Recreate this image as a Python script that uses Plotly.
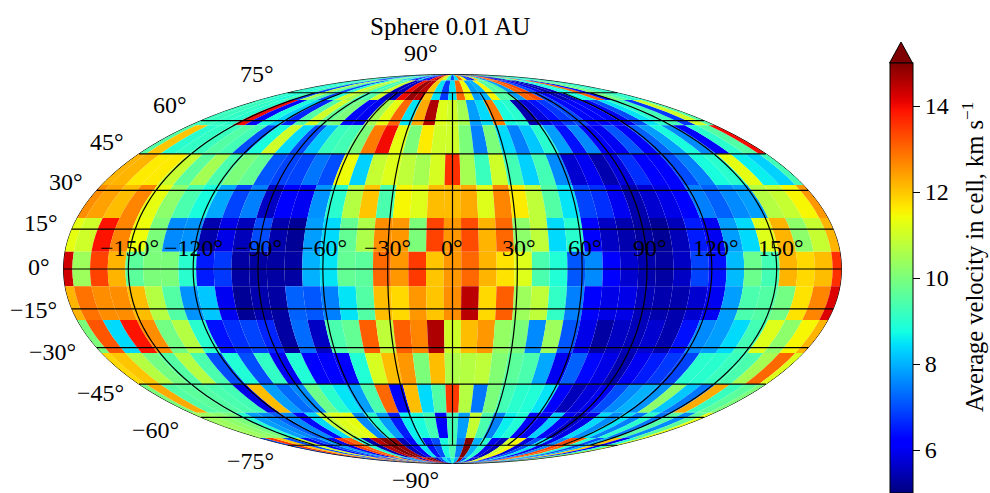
import numpy as np
import plotly.graph_objects as go
from plotly.colors import sample_colorscale

W, H = 990, 493

# Velocity per cell, km/s. Rows run north to south, columns west to east (45 columns, half cells at +/-180).
row_00 = [9.0,9.2,9.5,8.5,7.0,6.2,8.8,9.4,10,9.5,8.0,9,7,6,8.5,6,6,14,14.5,12,11,9,7,
          8.5,13,11.5,7,6.5,12,9.4,7.5,13,13,6,5.5,5.4,9,9,12,7,9.5,8.8,9,9,9]
row_01 = [9,9,8.8,9.3,7,10.5,9.5,7,9,11,10.5,9.2,9.5,11,5.5,5.6,14,14.8,14.5,12,8.5,6.8,8.5,
          13,11.4,7.8,8,11.5,9.5,9.5,7.8,13,13.3,7,6.2,5.4,5.6,8.8,8.8,13,6.4,10,9.5,9,9]
row_02 = [9.2,9.2,9.1,9,14,6.3,8.8,8.3,6.6,9.5,11,9.7,10,6.3,6,10.5,11.3,13,8.5,12.3,14.6,11.2,11,
          10.5,7.8,8.4,12.8,8.8,9,5.4,5.8,6.4,6.8,7,6.3,6.1,6.3,6,7,8.5,9,9.3,6.8,11,9.5]
row_03 = [9.5,12,9,9.1,9.2,9.5,9.3,7,8.8,11,8.4,7,8.2,9.2,9.3,10,12.8,14,11.3,10,11.6,11,11,
          10,7.5,10,8.4,7.5,8.2,9,7.8,6.4,7.6,6.2,6,7.1,6.1,7.2,7.8,8.8,7.6,6.2,9,9.5,14]
row_04 = [12.2,12.2,11.6,11.6,10.9,9.6,10.5,9.4,10,9.7,7.1,6.9,6.9,7.4,7,11.4,8.3,10.9,11.2,10.8,10.5,11.1,13.6,
          10.5,9.2,11,9.3,8.3,9.3,7.6,5.7,6,5.4,5.8,6.7,6.1,6.1,7,7.5,8.8,9,11.3,8.6,8.3,9.3]
row_05 = [12.6,12.4,12.1,12.7,11.3,10.2,9.4,8.8,7.9,6.9,7.5,5.6,6.2,6,7.7,9,10.7,12,9.4,11.5,11.2,12.1,12.1,
          12.3,11.2,12.7,11.6,10.8,9.5,8.5,6.9,6.7,6,5.4,5.7,5.9,6.2,7.5,7.2,7.6,7.8,10.7,10.9,11.5,12.5]
row_06 = [11.3,11,13.9,12.7,11.4,10,7.6,7.7,5.4,5.9,5.5,7,5.4,5.2,7.8,8.4,9.7,10.6,12.6,12.5,10,13.4,12.5,
          13.3,12.2,13,10.2,10.8,8.4,9,6.2,5.6,5.4,5.3,5.2,5.5,6.5,6,7.8,8.4,11.2,12.2,10.2,10.9,12.2]
row_07 = [14.3,10.4,13.4,12.2,9.6,10,10,9.0,6.5,6.8,5.3,5.3,5.3,5.3,8.0,8.5,9.7,9.6,13.0,12.5,13.5,12.0,12.5,
          13.0,12.2,11.7,11.2,9.4,8.9,7.1,7.6,6.2,5.7,5.4,5.3,5.6,6.9,6.4,8.1,9.8,9.3,12.2,11.8,12.1,13.6]
row_08 = [12.2,12.9,12.6,12.6,12.1,10.7,9.5,7.7,8.2,6,5.2,5.4,5.3,7.2,7.1,7.5,8.5,9.5,12.1,11.8,12.5,12,12.6,
          14.5,11.8,13.1,10.4,10.8,9.1,7.5,6.2,5.9,5.9,5.5,5.4,5.4,5.7,6,7.8,9.4,9.5,9.9,11.7,12.7,14.2]
row_09 = [10,13.2,8.4,13.9,12.6,9.9,10.7,9,6.4,6.7,6.9,6.6,5.3,7.3,5.6,9.4,9.7,13.1,10.8,13.1,12.7,14.6,11,
          12.1,12.5,10.3,10,7.6,10.4,7.1,5.9,5.3,5.6,5.5,5.7,5.4,6.4,7.6,7.8,8.4,9.3,11.2,10.2,11.5,12.2]
row_10 = [11.8,12,10.7,9.9,9.5,10.7,9.4,7,8.9,7,9.1,6,8.9,6.2,6.1,6.1,8.9,11.1,12.1,12.5,10,12.1,10.6,
          10.7,10.8,10.1,9.6,9.4,7.9,6,7.2,6.3,5.9,5.4,6,6.5,6.8,6.9,9,9,9.2,9.4,10.5,13,11.2]
row_11 = [10,12.3,9.5,9.6,9.5,9.4,9.3,5.9,12.1,7.8,7.3,7.6,9.8,9,8.5,7.8,9.4,13,6.1,12.1,8.4,9.5,13.5,
          10.7,7.4,10,9.3,9,8.9,8.5,6.2,5.5,5.8,6,7,7.6,8,7.7,10.2,8.2,7.4,12.3,9.2,9.6,10]
row_12 = [10.4,10.4,10.2,10,9,7.8,7.6,7.2,7.6,6.3,8.4,10.8,11.2,11.3,7.6,9,7.8,6.5,8.6,8.8,9.3,6.1,9.3,
          7.8,10.9,9.4,7.5,8.6,8.9,6.2,6,8.3,6.2,5.6,5.9,8.4,7.6,8.5,7.5,9,7.4,9.5,7.6,9.6,11.3]
row_13 = [7,13.5,12,7,11,6,7,7.8,6,13.5,13,9,5.4,14.5,15,14.8,5.5,6.2,8.5,6.4,7,8.8,9.4,
          7.5,15,8,9,6,5.5,11,11.5,5.8,7,8.5,6,7.6,13.4,13,9,7,8,12,6,9,11]
row_14 = [7,7.5,13.5,12,7,13,6,11,7,12,6,8,7.5,13.5,5.5,14,15,15,5.5,7,8.5,8,9,
          8,14.8,7,9,6,5.5,11,11.5,6,7,8.5,6,7.6,13.6,13,9,7,8,12,6,9,11]
rows = [row_00,row_01,row_02,row_03,row_04,row_05,row_06,row_07,
        row_08,row_09,row_10,row_11,row_12,row_13,row_14]
assert all(len(r) == 45 for r in rows), [len(r) for r in rows]

lat_tick_labels = ["90°","75°","60°","45°","30°","15°","0°","−15°","−30°","−45°","−60°","−75°","−90°"]
lon_tick_labels = ["−150°","−120°","−90°","−60°","−30°","0°","30°","60°","90°","120°","150°"]
cbar_ticks = [6, 8, 10, 12, 14]

dlat = 180 / 14
dlon = 360 / 44
lat_edges = [90.0] + [90 - 6.4286 - dlat * i for i in range(14)] + [-90.0]
lon_edges = [-180.0] + [-180 + dlon / 2 + dlon * i for i in range(44)] + [180.0]
EPS = 0.02
VMIN, VMAX = 5, 15

def ring(w, e, n, s):
    w = max(w, -180 + EPS); e = min(e, 180 - EPS)
    n = min(n, 90 - EPS); s = max(s, -90 + EPS)
    xs = np.linspace(w, e, 6).tolist()
    return [x for x in xs] + [x for x in xs[::-1]] + [xs[0]], [n]*6 + [s]*6 + [n]

# matplotlib jet segments
def seg(pts, t):
    return float(np.interp(t, [p[0] for p in pts], [p[1] for p in pts]))
R = [(0,0),(.35,0),(.66,1),(.89,1),(1,.5)]
G = [(0,0),(.125,0),(.375,1),(.64,1),(.91,0),(1,0)]
B = [(0,.5),(.11,1),(.34,1),(.65,0),(1,0)]
jet = [[t, "rgb(%d,%d,%d)" % (round(255*seg(R,t)), round(255*seg(G,t)), round(255*seg(B,t)))]
       for t in np.linspace(0, 1, 65).tolist()]

FONT = "Liberation Serif"
fig = go.Figure()
clon, clat, cval = [], [], []
for r, vals in enumerate(rows):
    for c, v in enumerate(vals):
        lons, lats = ring(lon_edges[c], lon_edges[c+1], lat_edges[r], lat_edges[r+1])
        col = sample_colorscale(jet, [(v - VMIN) / (VMAX - VMIN)], colortype="rgb")[0]
        fig.add_trace(go.Scattergeo(lon=lons, lat=lats, mode="lines", fill="toself", fillcolor=col,
                                    line=dict(width=0, color=col), hoverinfo="skip", showlegend=False))
        clon.append((max(lon_edges[c], -179) + min(lon_edges[c+1], 179)) / 2)
        clat.append((lat_edges[r] + lat_edges[r+1]) / 2)
        cval.append(v)

# Transparent points at the cell centres carry the colour bar
fig.add_trace(go.Scattergeo(lon=clon, lat=clat, mode="markers", hoverinfo="skip", showlegend=False,
    marker=dict(color=cval, cmin=VMIN, cmax=VMAX, colorscale=jet, size=1, opacity=0, showscale=True,
        colorbar=dict(x=889.5/W, xanchor="left", y=1-63/H, yanchor="top", len=430, lenmode="pixels",
                      thickness=23, thicknessmode="pixels", xpad=0, ypad=0, outlinecolor="black", outlinewidth=1,
                      tickvals=cbar_ticks, ticks="outside", ticklen=7, tickcolor="black",
                      tickfont=dict(family=FONT, size=24, color="black")))))

# graticule: parallels run to the rim, meridians stop at +/-75
glon, glat = [], []
for la in range(-75, 76, 15):
    xs = np.linspace(-179.98, 179.98, 73).tolist()
    glon += xs + [None]; glat += [la] * len(xs) + [None]
for lo in range(-150, 151, 30):
    ys = np.linspace(-75, 75, 31).tolist()
    glon += [lo] * len(ys) + [None]; glat += ys + [None]
fig.add_trace(go.Scattergeo(lon=glon, lat=glat, mode="lines", line=dict(color="black", width=1.2),
                            hoverinfo="skip", showlegend=False))

def label(txt, px, py, size=24, **kw):
    fig.add_annotation(text=txt, x=px/W, y=1-py/H, xref="paper", yref="paper", showarrow=False,
                       xanchor="center", yanchor="middle", font=dict(family=FONT, size=size, color="black"), **kw)

lat_pos = [(421,53),(257,74),(170,105),(107,142),(66,182),(41,223),(39,267),(33,310),(52,352),(100,393),(155,430),(250,461),(415,480)]
for t, (px, py) in zip(lat_tick_labels, lat_pos):
    label(t, px, py)
lon_pos = [129,193,258,323,387,452,519,585,650,716,781]
for t, px in zip(lon_tick_labels, lon_pos):
    label(t, px, 248)
label("Sphere 0.01 AU", 450, 26, size=25)
label("Average velocity in cell, km s<sup>−1</sup>", 973, 257, size=24.5, textangle=-90)

ax0, ax1, ay0, ax_mid, ay_tip = 889.5/W, 912.5/W, 1-63/H, 901/W, 1-42/H
fig.add_shape(type="path", xref="paper", yref="paper", fillcolor="#7f0000",
              line=dict(color="black", width=1),
              path=f"M {ax0} {ay0} L {ax_mid} {ay_tip} L {ax1} {ay0} Z")

fig.update_layout(
    width=W, height=H, margin=dict(l=0, r=0, t=0, b=0), paper_bgcolor="white", showlegend=False,
    geo=dict(projection_type="mollweide", showland=False, showocean=False, showcoastlines=False,
             showlakes=False, showrivers=False, showcountries=False, showsubunits=False,
             showframe=True, framecolor="black", framewidth=1, bgcolor="rgba(0,0,0,0)",
             domain=dict(x=[60/W, 845/W], y=[1-463.5/H, 1-74.5/H]),
             lonaxis=dict(showgrid=False), lataxis=dict(showgrid=False)),
)
fig.write_html("out.html", config={"displayModeBar": False},
               post_script="document.body.style.margin='0';document.body.style.overflow='hidden';")
